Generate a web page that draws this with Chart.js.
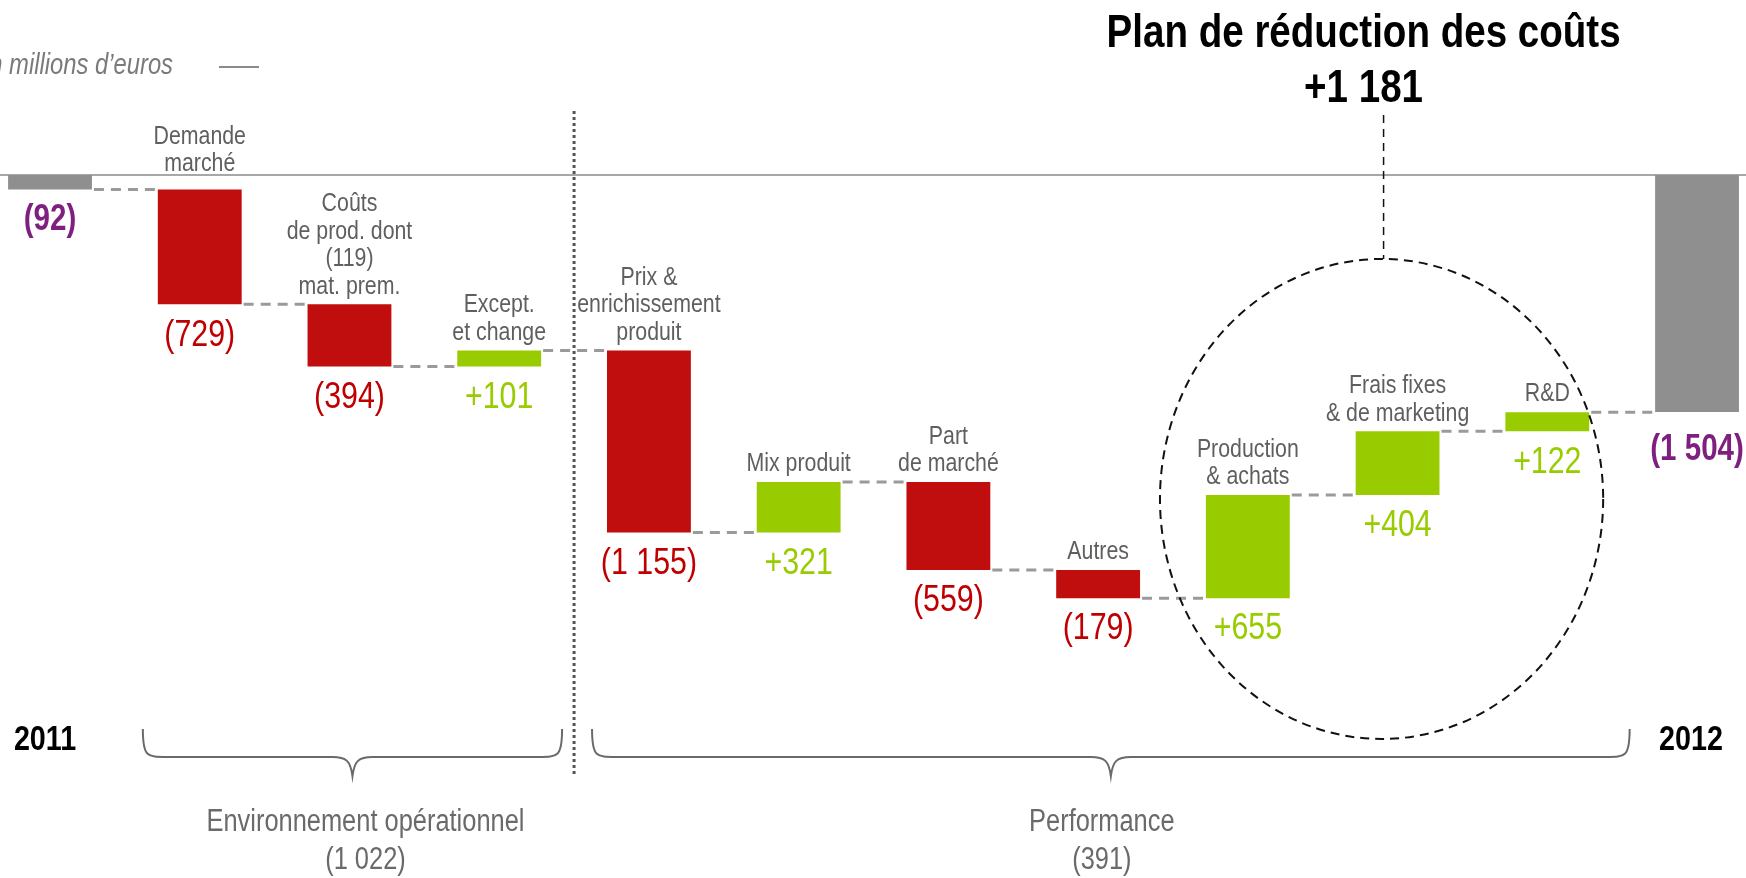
<!DOCTYPE html>
<html>
<head>
<meta charset="utf-8">
<script src="https://cdn.jsdelivr.net/npm/chart.js@4.4.0/dist/chart.umd.min.js"></script>
<style>
  html, body { margin: 0; padding: 0; background: #fff; }
  #wrap { width: 1746px; height: 878px; }
</style>
</head>
<body>
<div id="wrap"><canvas id="chart" width="1746" height="878"></canvas></div>
<script>
'use strict';

// valeurs (en millions d'euros)
const categories = ['2011', 'Demande marché', 'Coûts de prod.', 'Except. et change', 'Prix & enrichissement produit',
  'Mix produit', 'Part de marché', 'Autres', 'Production & achats', 'Frais fixes & de marketing', 'R&D', '2012']
const labelLines = [
  [], ['Demande', 'marché'], ['Coûts', 'de prod. dont', '(119)', 'mat. prem.'], ['Except.', 'et change'],
  ['Prix &', 'enrichissement', 'produit'], ['Mix produit'], ['Part', 'de marché'], ['Autres'],
  ['Production', '& achats'], ['Frais fixes', '& de marketing'], ['R&D'], []
]
const values = [-92, -729, -394, 101, -1155, 321, -559, -179, 655, 404, 122, -1504]
const isTotal = [true, false, false, false, false, false, false, false, false, false, false, true]
const valueLabels = ['(92)', '(729)', '(394)', '+101', '(1 155)', '+321', '(559)', '(179)', '+655', '+404', '+122', '(1 504)']
const yearLabels = ['2011', '2012']

const groupNames = ['Environnement opérationnel', 'Performance']
const groupValues = ['(1 022)', '(391)']
const groupFrom = [1, 4]
const groupTo = [3, 10]

const planTitle = 'Plan de réduction des coûts'
const planValue = '+1 181'
const planFrom = 8
const planTo = 10

const unitLabel = 'En millions d’euros'

const FONT = "'Liberation Sans', Arial, sans-serif"
const NARROW_SCALE = 0.82 // pas de police étroite installée : on comprime à la main
const RED = '#c00d0d'
const GREEN = '#99cc00'
const GREY_BAR = '#8f8f8f'
const PURPLE = '#7f1f7f'

// barres flottantes du waterfall
let running = 0
const ranges = values.map((v, i) => {
  if (isTotal[i]) {
    running = v
    return [0, v]
  }
  const start = running
  running += v
  return [start, running]
})
const barColors = values.map((v, i) => isTotal[i] ? GREY_BAR : (v < 0 ? RED : GREEN))

const narrowText = (c, text, x, y) => {
  c.save()
  c.translate(x, y)
  c.scale(NARROW_SCALE, 1)
  c.fillText(text, 0, 0)
  c.restore()
}

const waterfallPlugin = {
  id: 'waterfall',
  beforeDatasetsDraw(chart) {
    const c = chart.ctx
    const { y } = chart.scales
    const bars = chart.getDatasetMeta(0).data
    const zeroY = y.getPixelForValue(0)
    c.save()
    // ligne du zéro
    c.strokeStyle = '#8a8a8a'
    c.lineWidth = 1.5
    c.beginPath()
    c.moveTo(0, zeroY)
    c.lineTo(chart.width, zeroY)
    c.stroke()

    // liaisons pointillées
    c.strokeStyle = '#9a9a9a'
    c.lineWidth = 3
    c.setLineDash([10, 7])
    for (let i = 0; i < bars.length - 1; i++) {
      const ly = y.getPixelForValue(ranges[i][1])
      c.beginPath()
      c.moveTo(bars[i].x + bars[i].width / 2 + 2, ly)
      c.lineTo(bars[i + 1].x - bars[i + 1].width / 2, ly)
      c.stroke()
    }
    c.restore()
  },
  afterDatasetsDraw(chart) {
    const c = chart.ctx
    const { x, y } = chart.scales
    const bars = chart.getDatasetMeta(0).data
    const zeroY = y.getPixelForValue(0)
    const step = x.getPixelForValue(1) - x.getPixelForValue(0)
    c.save()
    c.textAlign = 'center'
    c.textBaseline = 'middle'

    bars.forEach((bar, i) => {
      const top = Math.min(bar.y, bar.base)
      const bottom = Math.max(bar.y, bar.base)
      // libellés des catégories
      c.fillStyle = '#5f5f5f'
      c.font = `26px ${FONT}`
      const lines = labelLines[i]
      let lastY = top - 18
      if (lastY > zeroY - 11 && lastY < zeroY + 24) lastY = zeroY - 11
      lines.forEach((t, k) => {
        narrowText(c, t, bar.x, lastY - (lines.length - 1 - k) * 27.5)
      })
      // valeurs
      if (isTotal[i]) {
        c.fillStyle = PURPLE
        c.font = `bold 36px ${FONT}`
      } else {
        c.fillStyle = values[i] < 0 ? '#c00000' : GREEN
        c.font = `37px ${FONT}`
      }
      narrowText(c, valueLabels[i], bar.x, bottom + (i === bars.length - 1 ? 38 : 31))
    })

    // années
    c.fillStyle = '#000'
    c.font = `bold 35px ${FONT}`
    narrowText(c, yearLabels[0], bars[0].x - 5, 740)
    narrowText(c, yearLabels[1], bars[bars.length - 1].x - 6, 740)

    // unité (coupée à gauche comme sur l'original)
    c.fillStyle = '#7a7a7a'
    c.font = `italic 29px ${FONT}`
    c.textAlign = 'right'
    narrowText(c, unitLabel, 173, 66)
    c.strokeStyle = '#8a8a8a'
    c.lineWidth = 2
    c.beginPath()
    c.moveTo(219, 67)
    c.lineTo(259, 67)
    c.stroke()
    c.textAlign = 'center'

    // séparateur pointillé
    const sepX = x.getPixelForValue((groupTo[0] + groupFrom[1]) / 2)
    c.strokeStyle = '#555'
    c.lineWidth = 3
    c.setLineDash([3, 3])
    c.beginPath()
    c.moveTo(sepX, 111)
    c.lineTo(sepX, 776)
    c.stroke()

    // accolades
    c.setLineDash([])
    c.strokeStyle = '#6a6a6a'
    c.lineWidth = 2
    const braceTop = 729, braceLine = 757, braceTip = 776
    const drawBrace = (x1, x2) => {
      const mid = (x1 + x2) / 2
      c.beginPath()
      c.moveTo(x1, braceTop)
      c.bezierCurveTo(x1, braceLine, x1 + 4, braceLine, x1 + 24, braceLine)
      c.lineTo(mid - 20, braceLine)
      c.bezierCurveTo(mid - 6, braceLine, mid - 2, braceLine + 4, mid, braceTip)
      c.bezierCurveTo(mid + 2, braceLine + 4, mid + 6, braceLine, mid + 20, braceLine)
      c.lineTo(x2 - 24, braceLine)
      c.bezierCurveTo(x2 - 4, braceLine, x2, braceLine, x2, braceTop)
      c.stroke()
      return mid
    }
    const textShift = [13, -9]
    groupNames.forEach((name, g) => {
      const x1 = x.getPixelForValue(groupFrom[g]) - step * 0.38
      const x2 = g === 0 ? x.getPixelForValue(groupTo[g]) + step * 0.42 : x.getPixelForValue(groupTo[g]) + step * 0.55
      const mid = drawBrace(x1, x2)
      c.fillStyle = '#6a6a6a'
      c.font = `31px ${FONT}`
      narrowText(c, name, mid + textShift[g], 822)
      narrowText(c, groupValues[g], mid + textShift[g], 860)
    })

    // plan de réduction des coûts : cercle + titre
    const cx = (x.getPixelForValue(planFrom) + x.getPixelForValue(planTo)) / 2 - 16
    const cy = y.getPixelForValue(-2056)
    const rx = step * 1.48
    const ry = 240
    c.strokeStyle = '#111'
    c.lineWidth = 2
    c.setLineDash([9, 6])
    c.beginPath()
    c.ellipse(cx, cy, rx, ry, 0, 0, Math.PI * 2)
    c.stroke()
    c.lineWidth = 1.5
    c.setLineDash([8, 6])
    c.beginPath()
    c.moveTo(cx + 2, 115)
    c.lineTo(cx + 2, cy - ry)
    c.stroke()
    c.setLineDash([])

    c.fillStyle = '#000'
    c.font = `bold 47px ${FONT}`
    narrowText(c, planTitle, cx - 18, 34)
    narrowText(c, planValue, cx - 18, 89)
    c.restore()
  }
}

new Chart(document.getElementById('chart'), {
  type: 'bar',
  data: {
    labels: categories,
    datasets: [{
      data: ranges.map((r, i) => ({ x: i, y: r })),
      backgroundColor: barColors,
      borderWidth: 0,
      categoryPercentage: 1,
      barPercentage: 0.56
    }]
  },
  options: {
    responsive: false,
    animation: false,
    layout: { padding: 0 },
    plugins: { legend: { display: false }, tooltip: { enabled: false } },
    scales: {
      x: { type: 'linear', display: false, offset: false, min: -0.334, max: 11.327 },
      y: { display: false, min: -4461, max: 1110 }
    }
  },
  plugins: [waterfallPlugin]
})
</script>
</body>
</html>
